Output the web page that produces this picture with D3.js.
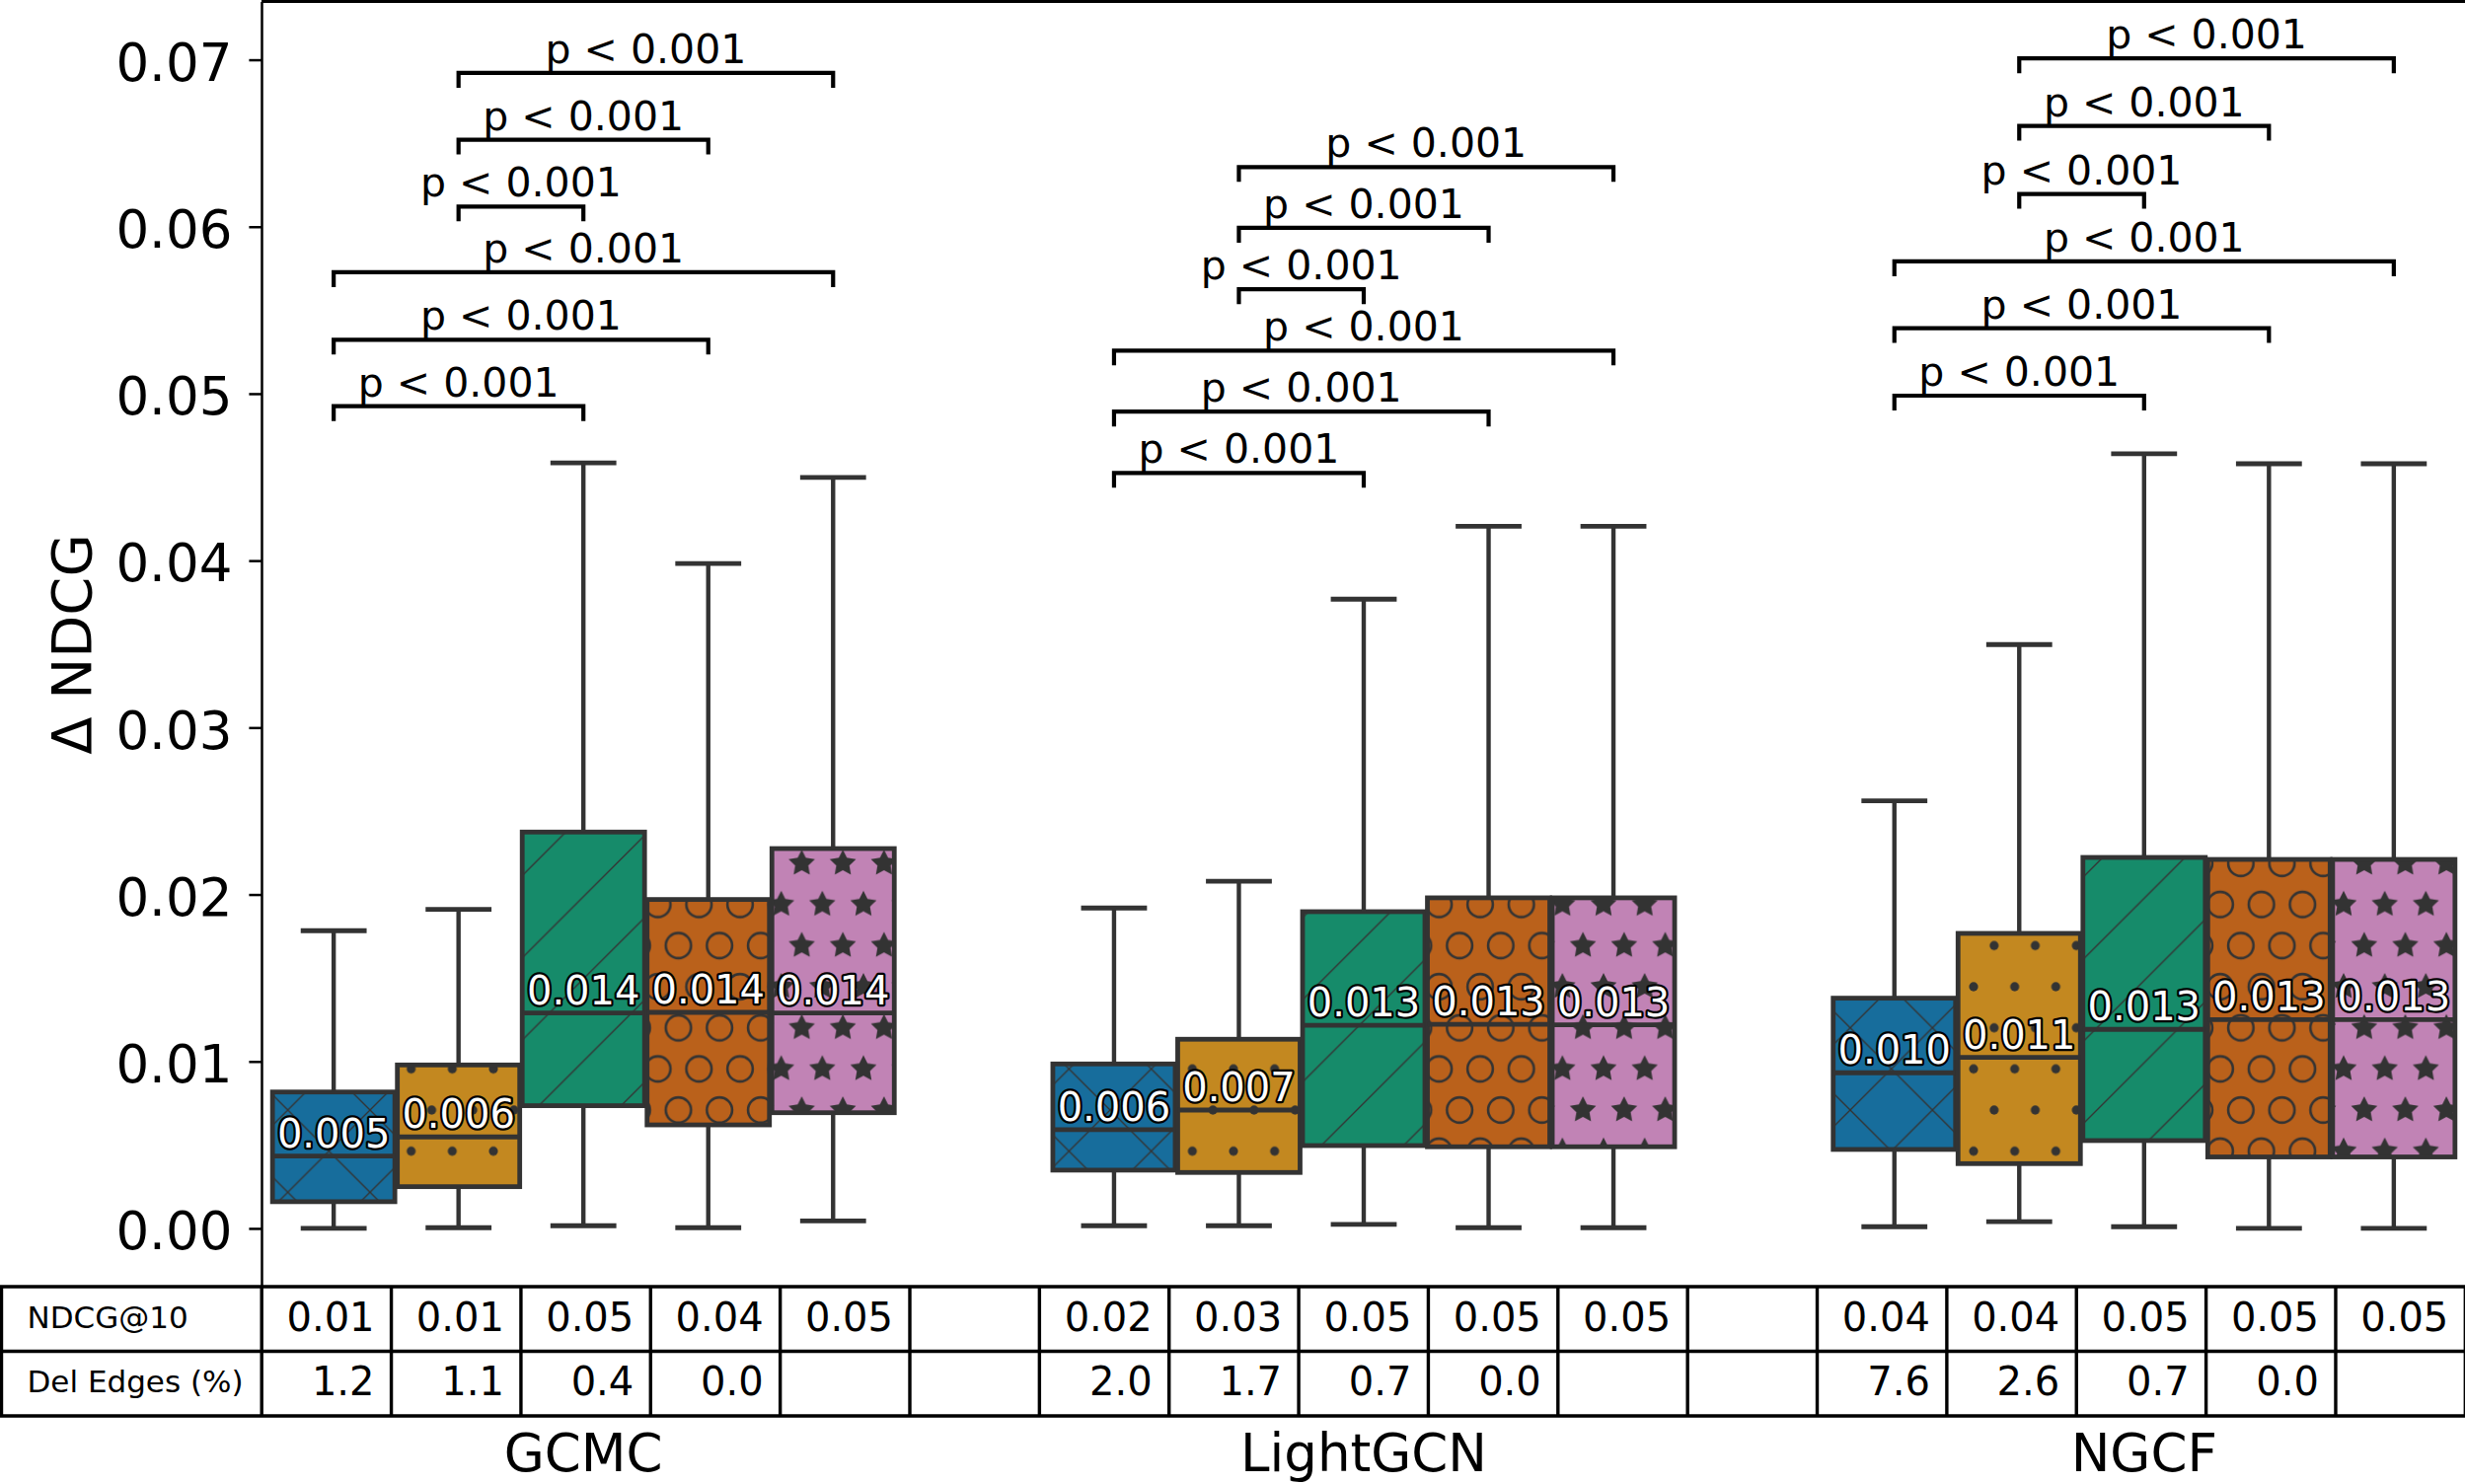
<!DOCTYPE html>
<html>
<head>
<meta charset="utf-8">
<script src="https://d3js.org/d3.v7.min.js"></script>
<style>
  body { margin: 0; background: #fff; overflow: hidden; }
  svg { display: block; font-family: "DejaVu Sans", sans-serif; }
</style>
</head>
<body>
<div id="chart-container"></div>
<script>
// Models on the x axis
var models = ["GCMC", "LightGCN", "NGCF"];
// One box per hue level inside each model
var hueColors = ["#176d9c", "#c38820", "#168b6a", "#ba611b", "#c183b5"];
var hueHatches = ["x", ".", "/", "o", "*"];

// Box stats: [low whisker, q1, median, q3, high whisker]
var gcmcBoxes = [
    [0.0000, 0.00160, 0.00433, 0.00817, 0.01783],
    [0.00004, 0.00250, 0.00548, 0.00979, 0.01911],
    [0.00016, 0.00735, 0.01290, 0.02374, 0.04585],
    [0.00004, 0.00620, 0.01294, 0.01970, 0.03983],
    [0.00045, 0.00693, 0.01290, 0.02275, 0.04498]
];
var lightgcnBoxes = [
    [0.00016, 0.00349, 0.00591, 0.00985, 0.01919],
    [0.00016, 0.00335, 0.00709, 0.01133, 0.02079],
    [0.00024, 0.00496, 0.01216, 0.01897, 0.03769],
    [0.00004, 0.00489, 0.01222, 0.01980, 0.04206],
    [0.00004, 0.00489, 0.01220, 0.01980, 0.04206]
];
var ngcfBoxes = [
    [0.00010, 0.00473, 0.00932, 0.01379, 0.02561],
    [0.00040, 0.00388, 0.01024, 0.01767, 0.03497],
    [0.00010, 0.00526, 0.01192, 0.02222, 0.04640],
    [0.00000, 0.00428, 0.01251, 0.02210, 0.04580],
    [0.00000, 0.00428, 0.01250, 0.02210, 0.04580]
];

// Mean values written above the medians
var gcmcMeans = [0.005, 0.006, 0.014, 0.014, 0.014];
var lightgcnMeans = [0.006, 0.007, 0.013, 0.013, 0.013];
var ngcfMeans = [0.010, 0.011, 0.013, 0.013, 0.013];

// Significance brackets: hue pairs and the height of each bracket
var bracketPairs = [[0, 2], [0, 3], [0, 4], [1, 2], [1, 3], [1, 4]];
var gcmcBrackets = [0.04925, 0.05323, 0.05727, 0.06121, 0.06521, 0.06921];
var lightgcnBrackets = [0.04525, 0.04892, 0.05258, 0.05625, 0.05993, 0.06357];
var ngcfBrackets = [0.04988, 0.05392, 0.05792, 0.06196, 0.06604, 0.07008];
var pLabels = ["p < 0.001", "p < 0.001", "p < 0.001", "p < 0.001", "p < 0.001", "p < 0.001"];

// Table under the plot
var tableRowLabels = ["NDCG@10", "Del Edges (%)"];
var gcmcNdcg = ["0.01", "0.01", "0.05", "0.04", "0.05"];
var lightgcnNdcg = ["0.02", "0.03", "0.05", "0.05", "0.05"];
var ngcfNdcg = ["0.04", "0.04", "0.05", "0.05", "0.05"];
var gcmcDel = ["1.2", "1.1", "0.4", "0.0", ""];
var lightgcnDel = ["2.0", "1.7", "0.7", "0.0", ""];
var ngcfDel = ["7.6", "2.6", "0.7", "0.0", ""];

var yTicks = [0, 0.01, 0.02, 0.03, 0.04, 0.05, 0.06, 0.07];

var boxData = [gcmcBoxes, lightgcnBoxes, ngcfBoxes];
var meanData = [gcmcMeans, lightgcnMeans, ngcfMeans];
var bracketData = [gcmcBrackets, lightgcnBrackets, ngcfBrackets];

var W = 2498, H = 1504;
var plotLeft = 265, plotRight = 2499, plotTop = 1.5, plotBottom = 1304;
var rowH = 65.5;
var edge = "#333333";
var hueStep = 0.16; // dodge width of one hue
var halfBox = hueStep * 0.98 / 2;

var svg = d3.select("#chart-container").append("svg")
    .attr("width", W)
    .attr("height", H);

var x = d3.scaleLinear().domain([-0.4125, 2.4125]).range([plotLeft, plotRight]);
var y = d3.scaleLinear().domain([-0.00349, 0.07349]).range([plotBottom, plotTop]);

// ---------- hatch patterns ----------
var defs = svg.append("defs");
var T = 500 / 6;   // spacing of line hatches
var S = 500 / 12;  // spacing of shape hatches

function starPath(r) {
    var pts = [];
    for (var i = 0; i < 10; i++) {
        var rr = i % 2 === 0 ? r : r * 0.5;
        var a = -Math.PI / 2 + i * Math.PI / 5;
        pts.push([rr * Math.cos(a), rr * Math.sin(a)]);
    }
    return "M" + pts.join("L") + "Z";
}

function makeHatch(id, hatch) {
    var isLine = hatch === "x" || hatch === "/";
    var pat = defs.append("pattern")
        .attr("id", id)
        .attr("patternUnits", "userSpaceOnUse")
        .attr("x", 0).attr("y", 0)
        .attr("width", isLine ? T : S)
        .attr("height", isLine ? T : 2 * S);

    if (isLine) {
        var d = "M0," + T + "L" + T + ",0" +
            "M" + (-T / 2) + "," + (T / 2) + "L" + (T / 2) + "," + (-T / 2) +
            "M" + (T / 2) + "," + (3 * T / 2) + "L" + (3 * T / 2) + "," + (T / 2);
        if (hatch === "x") {
            d += "M0,0L" + T + "," + T +
                "M" + (T / 2) + "," + (-T / 2) + "L" + (3 * T / 2) + "," + (T / 2) +
                "M" + (-T / 2) + "," + (T / 2) + "L" + (T / 2) + "," + (3 * T / 2);
        }
        pat.append("path").attr("d", d)
            .attr("stroke", edge).attr("stroke-width", 1.4).attr("fill", "none");
        return;
    }

    // hex lattice: corners of the tile and its centre
    var spots = [[0, 0], [S, 0], [0, 2 * S], [S, 2 * S], [S / 2, S]];
    spots.forEach(function(p) {
        if (hatch === ".") {
            pat.append("circle").attr("cx", p[0]).attr("cy", p[1]).attr("r", 4.6)
                .attr("fill", edge);
        } else if (hatch === "o") {
            pat.append("circle").attr("cx", p[0]).attr("cy", p[1]).attr("r", 12.8)
                .attr("fill", "none").attr("stroke", edge).attr("stroke-width", 2.6);
        } else {
            pat.append("path").attr("d", starPath(14))
                .attr("transform", "translate(" + p[0] + "," + p[1] + ")")
                .attr("fill", edge);
        }
    });
}

hueHatches.forEach(function(h, j) { makeHatch("hatch" + j, h); });

// ---------- axes frame ----------
var yAxis = d3.axisLeft(y)
    .tickValues(yTicks)
    .tickFormat(d3.format(".2f"))
    .tickSize(12.6)
    .tickSizeOuter(0)
    .tickPadding(17);

var gy = svg.append("g")
    .attr("transform", "translate(" + plotLeft + ",0)")
    .call(yAxis);
gy.select(".domain").attr("stroke", "#000").attr("stroke-width", 2.5);
gy.selectAll(".tick line").attr("stroke", "#000").attr("stroke-width", 2.5);
gy.selectAll(".tick text")
    .attr("font-family", "DejaVu Sans")
    .attr("font-size", 53)
    .attr("fill", "#000")
    .attr("dy", "0.39em");

svg.append("line")
    .attr("x1", plotLeft).attr("x2", plotRight)
    .attr("y1", plotTop).attr("y2", plotTop)
    .attr("stroke", "#000").attr("stroke-width", 3);

svg.append("text")
    .attr("transform", "translate(92," + 653 + ") rotate(-90)")
    .attr("text-anchor", "middle")
    .attr("font-size", 56)
    .text("\u0394 NDCG");

// ---------- boxes ----------
var boxLayer = svg.append("g");
var labelLayer = svg.append("g");

boxData.forEach(function(boxes, i) {
    boxes.forEach(function(b, j) {
        var cx = x(i + (j - 2) * hueStep);
        var x0 = x(i + (j - 2) * hueStep - halfBox);
        var x1 = x(i + (j - 2) * hueStep + halfBox);
        var capW = (x1 - x0) / 4;
        var g = boxLayer.append("g");

        g.append("rect")
            .attr("x", x0).attr("y", y(b[3]))
            .attr("width", x1 - x0).attr("height", y(b[1]) - y(b[3]))
            .attr("fill", hueColors[j]);
        g.append("rect")
            .attr("x", x0).attr("y", y(b[3]))
            .attr("width", x1 - x0).attr("height", y(b[1]) - y(b[3]))
            .attr("fill", "url(#hatch" + j + ")")
            .attr("stroke", edge).attr("stroke-width", 4.8);

        // whiskers
        g.append("line").attr("x1", cx).attr("x2", cx)
            .attr("y1", y(b[3])).attr("y2", y(b[4]))
            .attr("stroke", edge).attr("stroke-width", 4.4);
        g.append("line").attr("x1", cx).attr("x2", cx)
            .attr("y1", y(b[1])).attr("y2", y(b[0]))
            .attr("stroke", edge).attr("stroke-width", 4.4);
        // caps
        [b[0], b[4]].forEach(function(v) {
            g.append("line").attr("x1", cx - capW).attr("x2", cx + capW)
                .attr("y1", y(v)).attr("y2", y(v))
                .attr("stroke", edge).attr("stroke-width", 4.8)
                .attr("stroke-linecap", "square");
        });
        // median
        g.append("line").attr("x1", x0).attr("x2", x1)
            .attr("y1", y(b[2])).attr("y2", y(b[2]))
            .attr("stroke", edge).attr("stroke-width", 4.8);

        labelLayer.append("text")
            .attr("x", cx).attr("y", y(b[2]) - 9)
            .attr("text-anchor", "middle")
            .attr("font-size", 40)
            .attr("fill", "#fff")
            .attr("stroke", "#000").attr("stroke-width", 4.5)
            .attr("stroke-linejoin", "round")
            .attr("paint-order", "stroke")
            .text(d3.format(".3f")(meanData[i][j]));
    });
});

// ---------- significance brackets ----------
var tickLen = 15;
bracketData.forEach(function(levels, i) {
    bracketPairs.forEach(function(pair, k) {
        var xa = x(i + (pair[0] - 2) * hueStep);
        var xb = x(i + (pair[1] - 2) * hueStep);
        var yb = y(levels[k]);
        svg.append("path")
            .attr("d", "M" + xa + "," + (yb + tickLen) + "V" + yb + "H" + xb + "V" + (yb + tickLen))
            .attr("fill", "none").attr("stroke", "#000").attr("stroke-width", 4.2);
        svg.append("text")
            .attr("x", (xa + xb) / 2).attr("y", yb - 10)
            .attr("text-anchor", "middle")
            .attr("font-size", 41)
            .text(pLabels[k]);
    });
});

// ---------- table ----------
var ndcgRow = gcmcNdcg.concat([""], lightgcnNdcg, [""], ngcfNdcg);
var delRow = gcmcDel.concat([""], lightgcnDel, [""], ngcfDel);
var tableRows = [ndcgRow, delRow];
var col = d3.scaleLinear().domain([0, 17]).range([265.2, 265.2 + 17 * 131.36]);
var tableTop = plotBottom;

var tbl = svg.append("g");
[0, 1, 2].forEach(function(r) {
    tbl.append("line")
        .attr("x1", 0).attr("x2", W)
        .attr("y1", tableTop + r * rowH).attr("y2", tableTop + r * rowH)
        .attr("stroke", "#000").attr("stroke-width", 3.4);
});
d3.range(0, 18).forEach(function(c) {
    tbl.append("line")
        .attr("x1", col(c)).attr("x2", col(c))
        .attr("y1", tableTop).attr("y2", tableTop + 2 * rowH)
        .attr("stroke", "#000").attr("stroke-width", 3.4);
});
tbl.append("line")
    .attr("x1", 1.5).attr("x2", 1.5)
    .attr("y1", tableTop).attr("y2", tableTop + 2 * rowH)
    .attr("stroke", "#000").attr("stroke-width", 3.4);

tableRowLabels.forEach(function(lbl, r) {
    tbl.append("text")
        .attr("x", 27.5)
        .attr("y", tableTop + r * rowH + rowH / 2 + 9)
        .attr("font-size", 31)
        .text(lbl);
});
tableRows.forEach(function(row, r) {
    row.forEach(function(v, c) {
        if (v === "") return;
        tbl.append("text")
            .attr("x", col(c + 1) - 17)
            .attr("y", tableTop + r * rowH + rowH / 2 + 12)
            .attr("text-anchor", "end")
            .attr("font-size", 40)
            .text(v);
    });
});

// model names under the table
models.forEach(function(m, i) {
    svg.append("text")
        .attr("x", x(i)).attr("y", 1491)
        .attr("text-anchor", "middle")
        .attr("font-size", 53)
        .text(m);
});
</script>
</body>
</html>
